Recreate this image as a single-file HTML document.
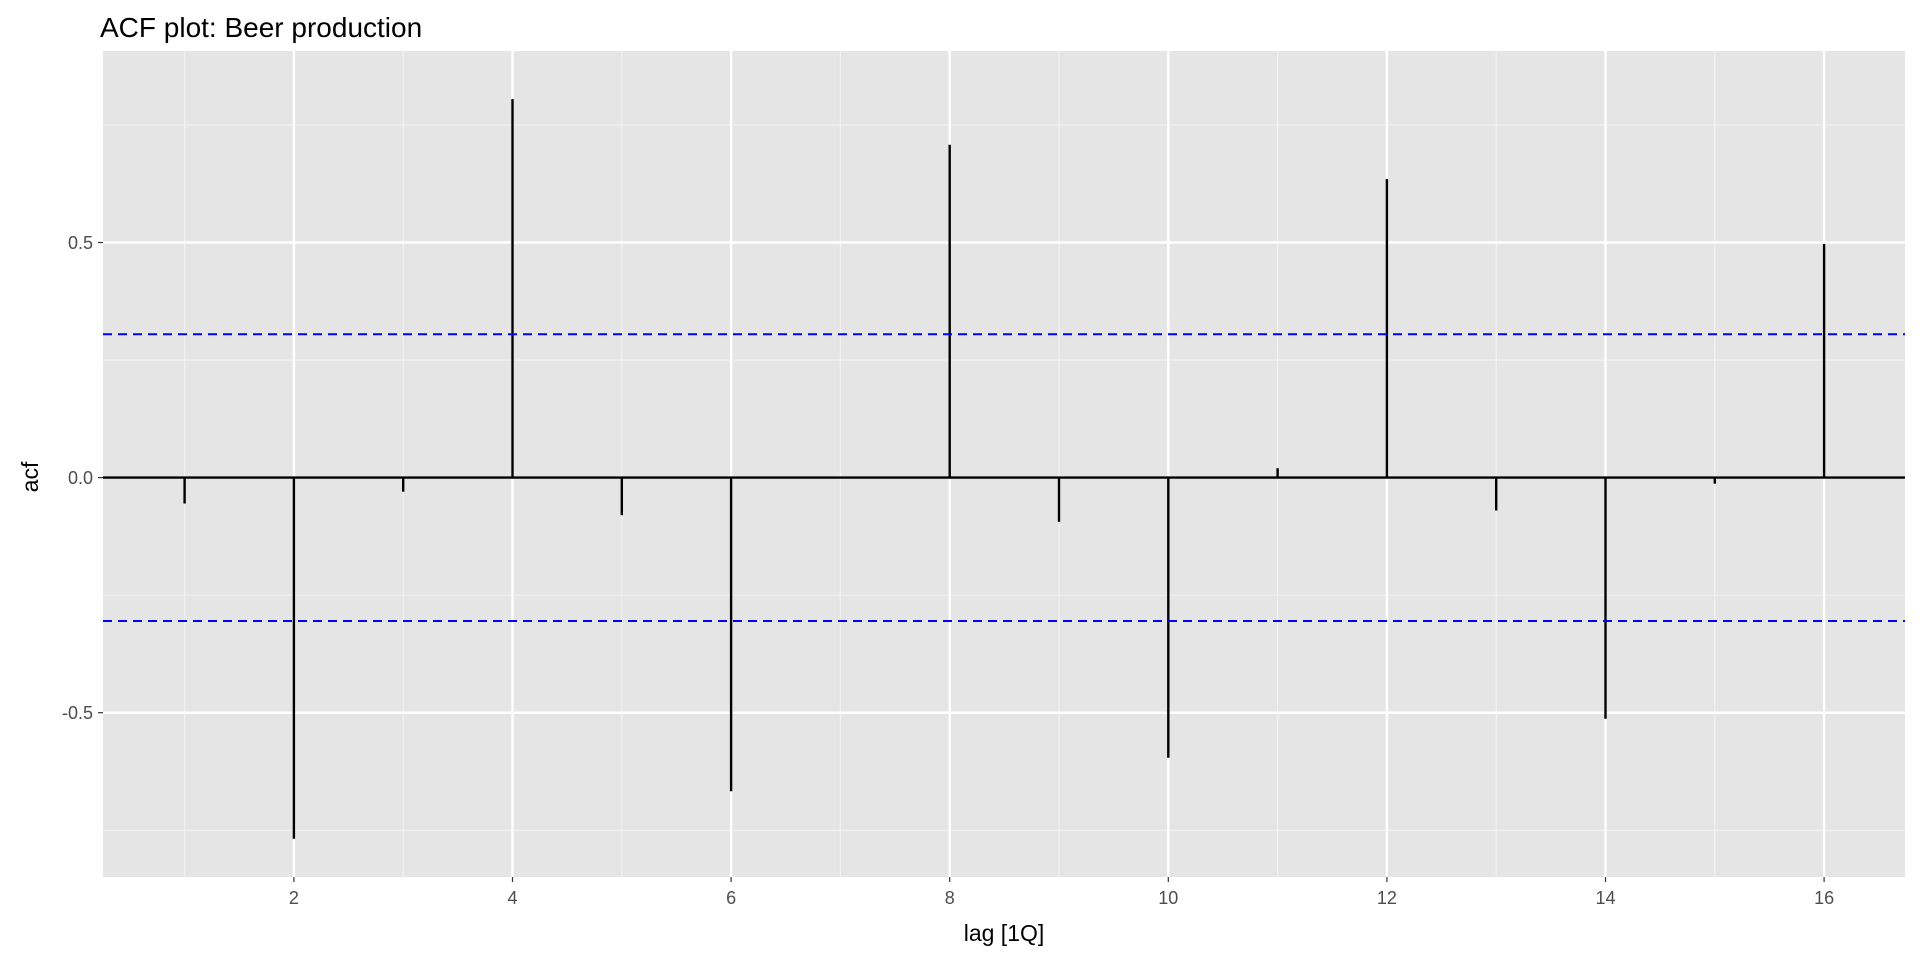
<!DOCTYPE html>
<html><head><style>body{margin:0;background:#fff}</style></head><body>
<svg width="1920" height="960" xmlns="http://www.w3.org/2000/svg" font-family="Liberation Sans, Arial, sans-serif">
<rect x="103" y="51" width="1802" height="826" fill="#e5e5e5"/>
<g stroke="#f2f2f2" stroke-width="1.2">
<line x1="103" x2="1905" y1="830.3" y2="830.3"/><line x1="103" x2="1905" y1="595.2" y2="595.2"/>
<line x1="103" x2="1905" y1="360.1" y2="360.1"/><line x1="103" x2="1905" y1="125" y2="125"/>
<line x1="184.6" x2="184.6" y1="51" y2="877"/><line x1="403.2" x2="403.2" y1="51" y2="877"/>
<line x1="621.8" x2="621.8" y1="51" y2="877"/><line x1="840.4" x2="840.4" y1="51" y2="877"/>
<line x1="1059" x2="1059" y1="51" y2="877"/><line x1="1277.6" x2="1277.6" y1="51" y2="877"/>
<line x1="1496.2" x2="1496.2" y1="51" y2="877"/><line x1="1714.8" x2="1714.8" y1="51" y2="877"/>
</g>
<g stroke="#fff" stroke-width="2.4">
<line x1="103" x2="1905" y1="712.7" y2="712.7"/><line x1="103" x2="1905" y1="477.6" y2="477.6"/><line x1="103" x2="1905" y1="242.5" y2="242.5"/>
<line x1="293.9" x2="293.9" y1="51" y2="877"/><line x1="512.5" x2="512.5" y1="51" y2="877"/>
<line x1="731.1" x2="731.1" y1="51" y2="877"/><line x1="949.7" x2="949.7" y1="51" y2="877"/>
<line x1="1168.3" x2="1168.3" y1="51" y2="877"/><line x1="1386.9" x2="1386.9" y1="51" y2="877"/>
<line x1="1605.5" x2="1605.5" y1="51" y2="877"/><line x1="1824.1" x2="1824.1" y1="51" y2="877"/>
</g>
<g stroke="#000" stroke-width="2.4">
<line x1="184.6" x2="184.6" y1="477.6" y2="503.5"/>
<line x1="293.9" x2="293.9" y1="477.6" y2="838.7"/>
<line x1="403.2" x2="403.2" y1="477.6" y2="491.7"/>
<line x1="512.5" x2="512.5" y1="477.6" y2="99.1"/>
<line x1="621.8" x2="621.8" y1="477.6" y2="515.2"/>
<line x1="731.1" x2="731.1" y1="477.6" y2="791.2"/>
<line x1="949.7" x2="949.7" y1="477.6" y2="144.7"/>
<line x1="1059" x2="1059" y1="477.6" y2="521.8"/>
<line x1="1168.3" x2="1168.3" y1="477.6" y2="757.8"/>
<line x1="1277.6" x2="1277.6" y1="477.6" y2="468.2"/>
<line x1="1386.9" x2="1386.9" y1="477.6" y2="179"/>
<line x1="1496.2" x2="1496.2" y1="477.6" y2="510.5"/>
<line x1="1605.5" x2="1605.5" y1="477.6" y2="718.8"/>
<line x1="1714.8" x2="1714.8" y1="477.6" y2="483.7"/>
<line x1="1824.1" x2="1824.1" y1="477.6" y2="243.9"/>
<line x1="103" x2="1905" y1="477.6" y2="477.6"/>
</g>
<g stroke="#0000ff" stroke-width="2" stroke-dasharray="9,6">
<line x1="103" x2="1905" y1="334.2" y2="334.2"/><line x1="103" x2="1905" y1="621" y2="621"/>
</g>
<g stroke="#333" stroke-width="1.2">
<line x1="98" x2="103" y1="712.7" y2="712.7"/><line x1="98" x2="103" y1="477.6" y2="477.6"/><line x1="98" x2="103" y1="242.5" y2="242.5"/>
<line x1="293.9" x2="293.9" y1="877" y2="882"/><line x1="512.5" x2="512.5" y1="877" y2="882"/><line x1="731.1" x2="731.1" y1="877" y2="882"/><line x1="949.7" x2="949.7" y1="877" y2="882"/><line x1="1168.3" x2="1168.3" y1="877" y2="882"/><line x1="1386.9" x2="1386.9" y1="877" y2="882"/><line x1="1605.5" x2="1605.5" y1="877" y2="882"/><line x1="1824.1" x2="1824.1" y1="877" y2="882"/>
</g>
<g fill="#4d4d4d" font-size="18" text-anchor="end">
<text x="93" y="719">-0.5</text><text x="93" y="484">0.0</text><text x="93" y="249">0.5</text>
</g>
<g fill="#4d4d4d" font-size="18" text-anchor="middle">
<text x="293.9" y="904">2</text><text x="512.5" y="904">4</text><text x="731.1" y="904">6</text><text x="949.7" y="904">8</text><text x="1168.3" y="904">10</text><text x="1386.9" y="904">12</text><text x="1605.5" y="904">14</text><text x="1824.1" y="904">16</text>
</g>
<text x="1004" y="941" font-size="23" text-anchor="middle">lag [1Q]</text>
<text transform="translate(38,477) rotate(-90)" font-size="23" text-anchor="middle">acf</text>
<text x="100" y="37" font-size="28">ACF plot: Beer production</text>
</svg>
</body></html>
